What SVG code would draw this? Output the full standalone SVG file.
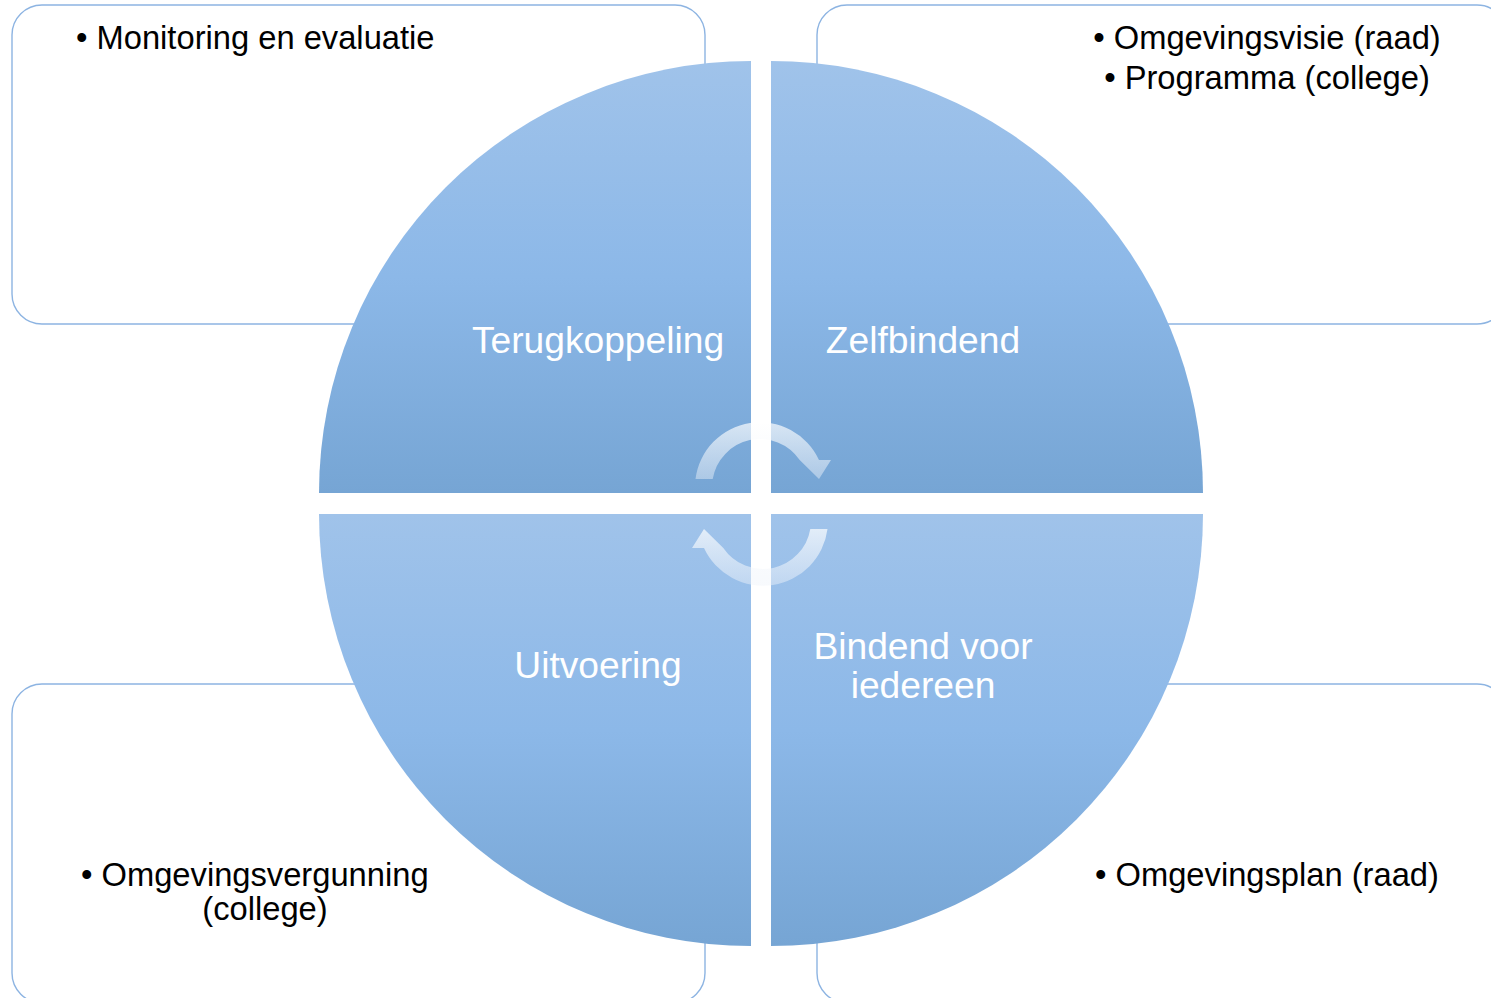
<svg xmlns="http://www.w3.org/2000/svg" width="1491" height="998" viewBox="0 0 1491 998">
  <defs>
    <linearGradient id="segGrad" x1="0" y1="0" x2="0" y2="1">
      <stop offset="0" stop-color="#a0c3ea"/>
      <stop offset="0.5" stop-color="#8cb8e8"/>
      <stop offset="1" stop-color="#76a5d4"/>
    </linearGradient>
    <linearGradient id="arrowGrad" x1="0" y1="0" x2="0" y2="1">
      <stop offset="0" stop-color="#ffffff" stop-opacity="0.7"/>
      <stop offset="1" stop-color="#eef3fa" stop-opacity="0.45"/>
    </linearGradient>
    <style>
      .box { fill: #ffffff; stroke: #8db4e2; stroke-width: 1.4; }
      .seg { fill: url(#segGrad); }
      .arrow { fill: url(#arrowGrad); }
      .btxt { font-family: "Liberation Sans", Arial, sans-serif; font-size: 32.7px; fill: #000000; }
      .wtxt { font-family: "Liberation Sans", Arial, sans-serif; font-size: 37.2px; fill: #ffffff; text-anchor: middle; }
    </style>
  </defs>

  <rect width="1491" height="998" fill="#ffffff"/>

  <g id="box-monitoring">
    <rect class="box" x="12" y="5" width="693" height="319" rx="30" ry="30"/>
    <text class="btxt" x="76" y="49">• Monitoring en evaluatie</text>
  </g>
  <g id="box-visie">
    <rect class="box" x="817" y="5" width="690" height="319" rx="30" ry="30"/>
    <text class="btxt" x="1267" y="49" text-anchor="middle">• Omgevingsvisie (raad)</text>
    <text class="btxt" x="1267" y="89" text-anchor="middle">• Programma (college)</text>
  </g>
  <g id="box-vergunning">
    <rect class="box" x="12" y="684" width="693" height="319" rx="30" ry="30"/>
    <text class="btxt" x="81" y="886">• Omgevingsvergunning</text>
    <text class="btxt" x="265" y="920" text-anchor="middle">(college)</text>
  </g>
  <g id="box-plan">
    <rect class="box" x="817" y="684" width="690" height="319" rx="30" ry="30"/>
    <text class="btxt" x="1095" y="886">• Omgevingsplan (raad)</text>
  </g>

  <g id="seg-terugkoppeling">
    <path class="seg" d="M 751 493 L 319 493 A 432 432 0 0 1 751 61 Z"/>
    <text class="wtxt" x="598" y="353">Terugkoppeling</text>
  </g>
  <g id="seg-zelfbindend">
    <path class="seg" d="M 771 493 L 771 61 A 432 432 0 0 1 1203 493 Z"/>
    <text class="wtxt" x="923" y="353">Zelfbindend</text>
  </g>
  <g id="seg-uitvoering">
    <path class="seg" d="M 751 514 L 751 946 A 432 432 0 0 1 319 514 Z"/>
    <text class="wtxt" x="598" y="678">Uitvoering</text>
  </g>
  <g id="seg-bindend">
    <path class="seg" d="M 771 514 L 1203 514 A 432 432 0 0 1 771 946 Z"/>
    <text class="wtxt" x="923" y="659">Bindend voor</text>
    <text class="wtxt" x="923" y="698">iedereen</text>
  </g>

  <g id="connectors">
    <path class="arrow" d="M 695.5 479 A 65 65 0 0 1 819 460 L 831 460 L 819 479 L 799.7 460 A 48 48 0 0 0 712.7 479 Z"/>
    <path class="arrow" d="M 827.5 529 A 65 65 0 0 1 704 548 L 692 548 L 704 529 L 723.3 548 A 48 48 0 0 0 810.3 529 Z"/>
  </g>
</svg>
